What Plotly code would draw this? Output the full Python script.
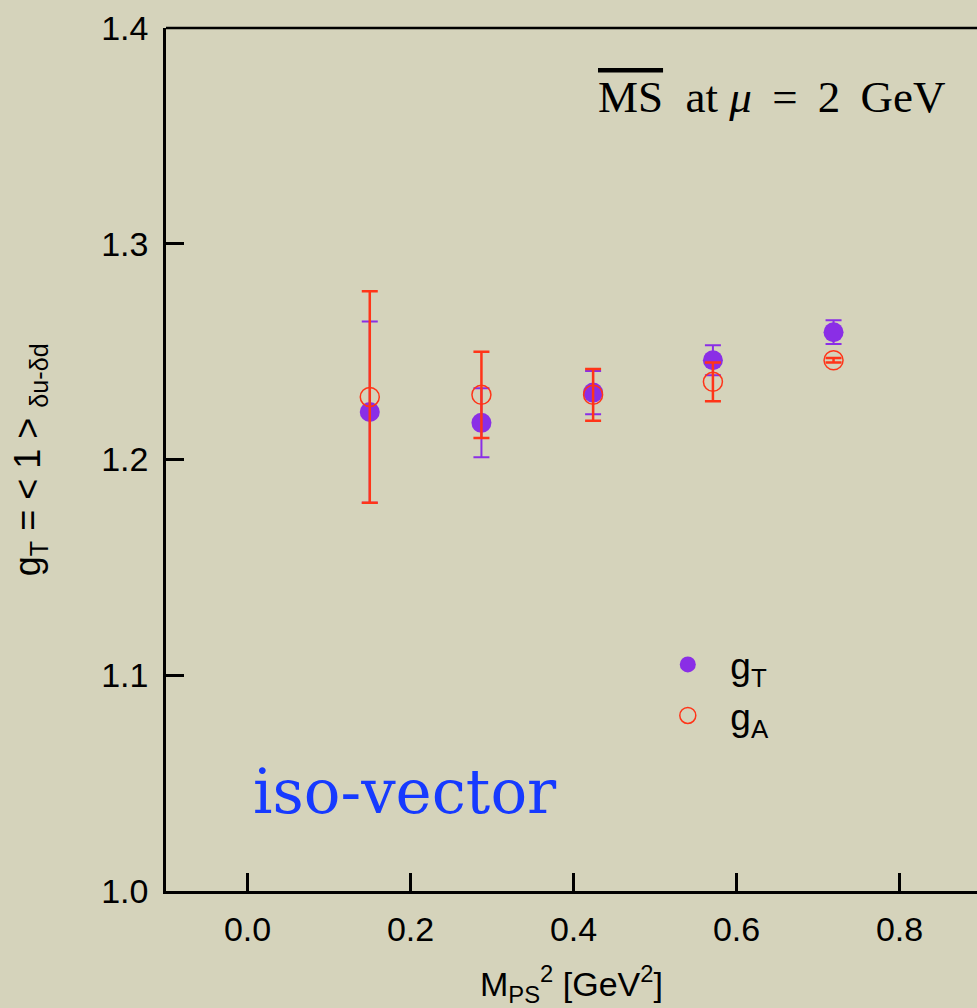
import plotly.graph_objects as go

# Pseudoscalar mass squared [GeV^2] for each ensemble
m_ps2 = [0.150, 0.287, 0.424, 0.571, 0.719]

# Tensor charge g_T and its uncertainty
g_t = [1.222, 1.217, 1.231, 1.246, 1.259]
g_t_err = [0.042, 0.016, 0.010, 0.007, 0.0055]

# Axial charge g_A and its uncertainty
g_a = [1.229, 1.230, 1.230, 1.236, 1.246]
g_a_err = [0.049, 0.020, 0.012, 0.009, 0.001]

x_ticks = [0.0, 0.2, 0.4, 0.6, 0.8]
y_ticks = [1.0, 1.1, 1.2, 1.3, 1.4]

BG = "rgb(213,211,187)"
PURPLE = "rgb(138,46,230)"
RED = "rgb(255,52,24)"
SANS = "Liberation Sans, Arial, sans-serif"
SERIF = "Liberation Serif, Times New Roman, serif"

fig = go.Figure()

fig.add_trace(go.Scatter(
    x=m_ps2, y=g_t, mode="markers", name="g<sub>T</sub>",
    marker=dict(symbol="circle", size=20, color=PURPLE),
    error_y=dict(type="data", array=g_t_err, visible=True,
                 color=PURPLE, thickness=2, width=8),
))

fig.add_trace(go.Scatter(
    x=m_ps2, y=g_a, mode="markers", name="g<sub>A</sub>",
    marker=dict(symbol="circle-open", size=19, color=RED,
                line=dict(width=1.5, color=RED)),
    error_y=dict(type="data", array=g_a_err, visible=True,
                 color=RED, thickness=2.5, width=8),
))

axis_common = dict(
    showgrid=False, zeroline=False, showline=True, linecolor="black",
    linewidth=2.5, ticks="inside", ticklen=18, tickwidth=2.5,
    tickcolor="black", tickfont=dict(family=SANS, size=34, color="black"),
)

fig.update_xaxes(range=[-0.1, 0.895], tickvals=x_ticks,
                 ticktext=[f"{v:.1f}" for v in x_ticks],
                 ticklabelstandoff=6, **axis_common)
fig.update_yaxes(range=[1.0, 1.4], tickvals=y_ticks,
                 ticktext=[f"{v:.1f}" for v in y_ticks],
                 ticklabelstandoff=8, **axis_common)

# top frame line (the plot continues past the right edge)
fig.add_shape(type="line", xref="paper", yref="paper", x0=0, x1=1, y0=1, y1=1,
              line=dict(color="black", width=2.5))

fig.add_annotation(
    xref="paper", yref="paper", x=0.5, y=-0.108, yanchor="middle",
    text="M<sub>PS</sub><sup>2</sup> [GeV<sup>2</sup>]", showarrow=False,
    font=dict(family=SANS, size=34, color="black"),
)
fig.add_annotation(
    xref="paper", yref="paper", x=-0.168, y=0.5, textangle=-90,
    xanchor="center", yanchor="middle",
    text="g<sub>T</sub> = &lt; 1 &gt; <sub>δu-δd</sub>", showarrow=False,
    font=dict(family=SANS, size=36, color="black"),
)
fig.add_annotation(
    xref="paper", yref="paper", x=0.53, y=0.92, xanchor="left", yanchor="middle",
    text=('<span style="text-decoration:overline">MS</span>  at <i>μ</i>'
          ' &#8201;= &#8201;2 &#8201;GeV'),
    showarrow=False, font=dict(family=SERIF, size=45, color="black"),
)
fig.add_annotation(
    xref="paper", yref="paper", x=0.105, y=0.115, xanchor="left", yanchor="middle",
    text="iso-vector", showarrow=False,
    font=dict(family="DejaVu Serif, serif", size=61, color="rgb(22,58,255)"),
)

fig.update_layout(
    width=977, height=1008,
    margin=dict(l=166, r=0, t=28, b=117),
    paper_bgcolor=BG, plot_bgcolor=BG,
    showlegend=True,
    legend=dict(x=0.591, y=0.298, xanchor="left", yanchor="top",
                bgcolor="rgba(0,0,0,0)", itemwidth=75,
                font=dict(family=SANS, size=37, color="black")),
)

fig.write_html("out.html")
